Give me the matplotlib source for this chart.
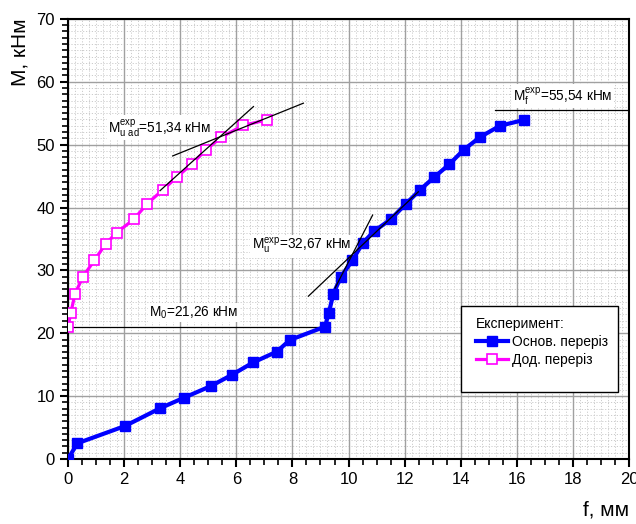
import numpy as np
import matplotlib
matplotlib.use('Agg')
import matplotlib.pyplot as plt
from matplotlib.patches import Rectangle
from matplotlib.ticker import MultipleLocator

plt.rcParams['font.family'] = ['Liberation Sans', 'DejaVu Sans']
plt.rcParams['mathtext.fontset'] = 'custom'
plt.rcParams['mathtext.rm'] = 'Liberation Sans'

# data
f_main = [0.0, 0.33, 2.03, 3.28, 4.14, 5.09, 5.83, 6.61, 7.44, 7.91, 9.16, 9.30, 9.46,
          9.73, 10.14, 10.5, 10.9, 11.5, 12.05, 12.55, 13.05, 13.6, 14.1, 14.69, 15.4, 16.26]
M_main = [0.0, 2.5, 5.25, 8.07, 9.76, 11.6, 13.36, 15.38, 17.07, 18.93, 21.05, 23.3, 26.3,
          29.0, 31.6, 34.3, 36.2, 38.1, 40.6, 42.8, 44.8, 46.9, 49.15, 51.2, 53.0, 53.93]
f_add = [0.0, 0.10, 0.25, 0.53, 0.94, 1.34, 1.73, 2.34, 2.82, 3.38, 3.87, 4.41, 4.91, 5.47, 6.24, 7.08]
M_add = [21.05, 23.3, 26.3, 29.0, 31.6, 34.2, 36.0, 38.1, 40.6, 42.8, 44.8, 46.9, 49.15, 51.2, 53.05, 53.93]

# tangent / guide lines (f, M)
tan_add1 = ([3.28, 6.61], [42.68, 56.05])
tan_add2 = ([3.73, 8.39], [48.2, 56.59])
tan_main1 = ([9.52, 10.86], [27.2, 38.8])
tan_main2 = ([8.57, 12.49], [25.9, 42.5])
M0_line = ([0.0, 9.16], [21.05, 21.05])
Mf_line = ([15.22, 20.0], [55.52, 55.52])

fig = plt.figure(figsize=(6.36, 5.24), dpi=100)
ax = fig.add_axes([0.107, 0.124, 0.882, 0.840])

ax.set_xlim(0, 20)
ax.set_ylim(0, 70)
ax.xaxis.set_major_locator(MultipleLocator(2))
ax.xaxis.set_minor_locator(MultipleLocator(0.5))
ax.yaxis.set_major_locator(MultipleLocator(10))
ax.yaxis.set_minor_locator(MultipleLocator(1))

# grid: dotted fine grid + solid major grid
for xv in np.arange(0.25, 20, 0.25):
    ax.axvline(xv, color='#cccccc', lw=0.7, ls=(0, (1.2, 1.8)), zorder=0)
for yv in np.arange(1, 70, 1):
    ax.axhline(yv, color='#cccccc', lw=0.7, ls=(0, (1.2, 1.8)), zorder=0)
ax.grid(which='major', color='#a0a0a0', lw=1.0, zorder=0.5)
ax.set_axisbelow(True)

for s in ax.spines.values():
    s.set_linewidth(1.5)
ax.tick_params(which='major', direction='out', length=6, width=1.5, labelsize=12)
ax.tick_params(which='minor', direction='out', length=4, width=1.2)

tb = dict(facecolor='white', edgecolor='none', pad=1)
ax.text(1.44, 51.98, r'$\mathregular{M_{u\ ad}^{exp}}$=51,34 кНм', fontsize=9.8,
        va='baseline', ha='left', bbox=tb, zorder=1.5)
ax.text(6.55, 33.25, r'$\mathregular{M_{u}^{exp}}$=32,67 кНм', fontsize=9.8,
        va='baseline', ha='left', bbox=tb, zorder=1.5)
ax.text(2.9, 22.64, r'$\mathregular{M_{0}}$=21,26 кНм', fontsize=9.8,
        va='baseline', ha='left', bbox=tb, zorder=1.5)
ax.text(15.88, 57.0, r'$\mathregular{M_{f}^{exp}}$=55,54 кНм', fontsize=9.8,
        va='baseline', ha='left', bbox=tb, zorder=1.5)

# guide lines
ax.plot(*M0_line, color='black', lw=0.9, zorder=2)
ax.plot(*Mf_line, color='black', lw=0.9, zorder=2)

l1, = ax.plot(f_main, M_main, color='#0000ff', lw=3, marker='s', ms=7,
              mfc='#0000ff', mec='#0000ff', zorder=3, label='Основ. переріз')
l2, = ax.plot(f_add, M_add, color='#ff00ff', lw=2.3, marker='s', ms=7,
              mfc='white', mec='#ff00ff', mew=1.2, zorder=3, label='Дод. переріз')

for t in (tan_add1, tan_add2, tan_main1, tan_main2):
    ax.plot(*t, color='black', lw=0.9, zorder=4)

ax.set_ylabel('M, кНм', fontsize=15, loc='top')
ax.yaxis.set_label_coords(-0.068, 1.0)
ax.set_xlabel('f, мм', fontsize=15, loc='right')
ax.xaxis.set_label_coords(1.0, -0.095)

# legend box
ax.add_patch(Rectangle((0.7005, 0.1516), 0.2795, 0.1964, transform=ax.transAxes,
                       facecolor='white', edgecolor='black', lw=1.0, zorder=6))
leg = ax.legend(handles=[l1, l2], title='Експеримент:', loc='upper left',
                bbox_to_anchor=(0.722, 0.33), frameon=False, fontsize=10,
                title_fontsize=10, alignment='left', handlelength=2.3,
                handletextpad=0.3, labelspacing=0.3, borderpad=0.2,
                borderaxespad=0)
leg.set_zorder(7)

fig.savefig('out.png', dpi=100)
